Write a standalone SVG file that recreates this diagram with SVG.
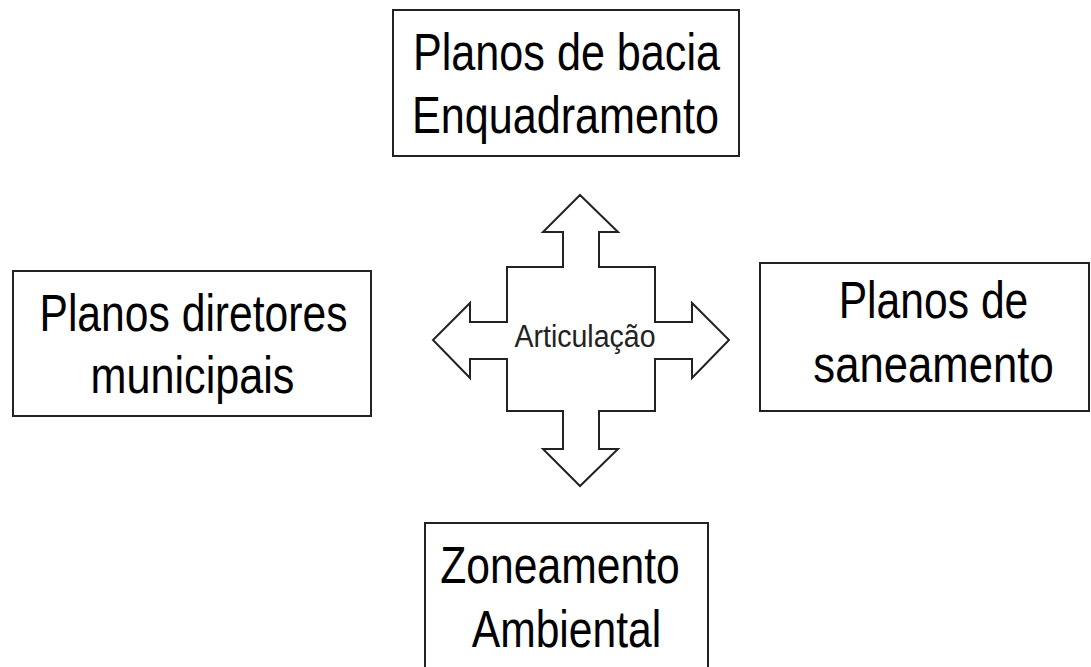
<svg xmlns="http://www.w3.org/2000/svg" width="1091" height="667" viewBox="0 0 1091 667">
<style>
.box{fill:#fff;stroke:#222;stroke-width:2}
.t{font-family:"Liberation Sans",Arial,sans-serif;font-size:52px;fill:#000;text-anchor:middle}
.s{font-family:"Liberation Sans",Arial,sans-serif;font-size:31px;fill:#222;text-anchor:middle}
.arrow{fill:#fff;stroke:#222;stroke-width:2;stroke-linejoin:miter}
</style>
<rect width="1091" height="667" fill="#fff"/>
<g id="connectors">
<path class="arrow" d="M580,195 L618,232 L599,232 L599,267 L655,267 L655,322 L692,322 L692,303 L729,340 L692,378 L692,359 L655,359 L655,411 L599,411 L599,449 L618,449 L580,486 L543,449 L563,449 L563,411 L507,411 L507,359 L470,359 L470,378 L433,340 L470,303 L470,322 L507,322 L507,267 L563,267 L563,232 L543,232 Z"/>
<text class="s" transform="translate(585,347) scale(0.92,1)">Articulação</text>
</g>
<g id="top">
<rect class="box" x="393" y="10" width="346" height="146"/>
<text class="t" transform="translate(566.5,70) scale(0.83,1)">Planos de bacia</text>
<text class="t" transform="translate(565.5,133) scale(0.83,1)">Enquadramento</text>
</g>
<g id="left">
<rect class="box" x="13" y="271" width="358" height="145"/>
<text class="t" transform="translate(193.5,331) scale(0.82,1)">Planos diretores</text>
<text class="t" transform="translate(192.5,393) scale(0.83,1)">municipais</text>
</g>
<g id="right">
<rect class="box" x="760" y="263" width="329" height="148"/>
<text class="t" transform="translate(933.5,318) scale(0.82,1)">Planos de</text>
<text class="t" transform="translate(933.5,382) scale(0.84,1)">saneamento</text>
</g>
<g id="bottom">
<rect class="box" x="425" y="523" width="283" height="160"/>
<text class="t" transform="translate(560,583) scale(0.82,1)">Zoneamento</text>
<text class="t" transform="translate(566.5,647) scale(0.82,1)">Ambiental</text>
</g>
</svg>
